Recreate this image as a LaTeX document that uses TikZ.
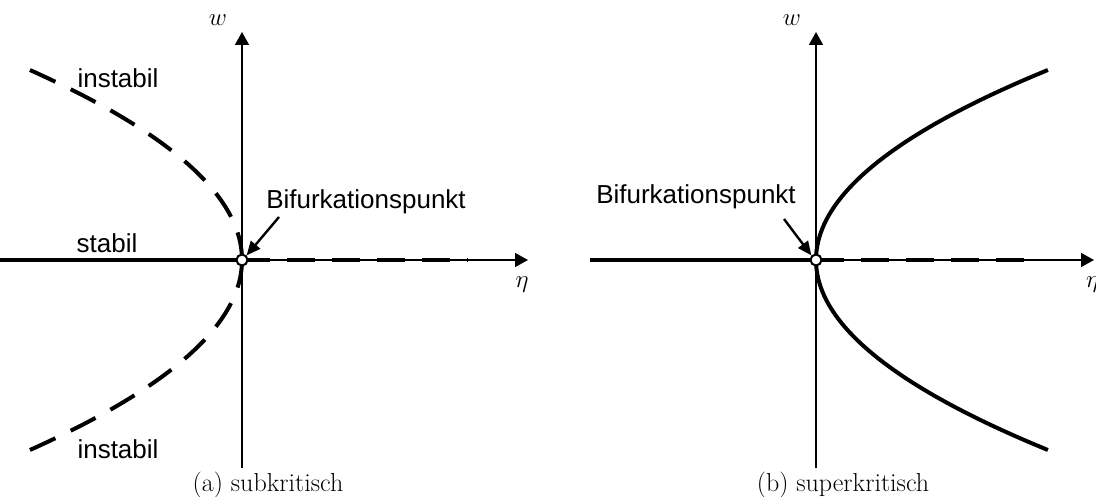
\documentclass[tikz,border=0pt]{standalone}
\usepackage{fontspec}
\newfontfamily\labelfont{Liberation Sans}
\usetikzlibrary{arrows.meta}
\begin{document}
\begin{tikzpicture}[x=1pt,y=-1pt,
  axis/.style={line width=1.6pt,-{Triangle[length=13pt,width=14pt]}},
  stable/.style={line width=4pt},
  unstable/.style={line width=4pt,dash pattern=on 28pt off 17pt},
  bifpoint/.style={circle,draw,line width=2pt,fill=white,inner sep=0pt,minimum size=11pt},
  lbl/.style={font=\labelfont\fontsize{26}{26}\selectfont,inner sep=0pt},
  axlbl/.style={font=\fontsize{28}{28}\selectfont,inner sep=0pt},
  captext/.style={font=\fontsize{26}{26}\selectfont,inner sep=0pt},
  pointer/.style={line width=2.4pt,-{Triangle[length=14pt,width=12pt]}}]
\useasboundingbox (0,0) rectangle (1096,497);

% ---------- (a) subcritical ----------
\coordinate (Ao) at (242,260);
\coordinate (Ab) at (242,468);
\coordinate (At) at (242,32);
\coordinate (Al) at (0,260);
\coordinate (Ar) at (528,260);
\coordinate (Ad) at (468,260);
\draw[axis] (Ab) -- (At);
\draw[axis] (Al) -- (Ar);
\draw[stable] (Al) -- (Ao);
\draw[unstable] (Ao) -- (Ad);
\draw[unstable] plot[domain=0:190,samples=60] ({242-0.00587*\x*\x},{260-\x});
\draw[unstable] plot[domain=0:190,samples=60] ({242-0.00587*\x*\x},{260+\x});
\node[bifpoint] (A) at (Ao) {};
\node[axlbl] (Aw) at (218,20) {$w$};
\node[axlbl] (Aeta) at (522,285) {$\eta$};
\node[lbl] (Ai1) at (118,78) {instabil};
\node[lbl] (Ai2) at (118,449) {instabil};
\node[lbl] (As) at (107,243) {stabil};
\node[lbl] (Abif) at (366,202) {Bifurkationspunkt};
\coordinate (Aarr) at (279,217);
\draw[pointer] (Aarr) -- (A.north east);
\node[captext] (Acap) at (268,485) {(a) subkritisch};

% ---------- (b) supercritical ----------
\coordinate (Bo) at (816,260);
\coordinate (Bb) at (816,468);
\coordinate (Bt) at (816,32);
\coordinate (Bl) at (590,260);
\coordinate (Br) at (1094,260);
\coordinate (Bd) at (1036,260);
\draw[axis] (Bb) -- (Bt);
\draw[axis] (Bl) -- (Br);
\draw[stable] (Bl) -- (Bo);
\draw[unstable] (Bo) -- (Bd);
\draw[stable] plot[domain=0:190,samples=60] ({816+0.00643*\x*\x},{260-\x});
\draw[stable] plot[domain=0:190,samples=60] ({816+0.00643*\x*\x},{260+\x});
\node[bifpoint] (B) at (Bo) {};
\node[axlbl] (Bw) at (792,20) {$w$};
\node[axlbl,anchor=west] (Beta) at (1086,285) {$\eta$};
\node[lbl] (Bbif) at (696,197) {Bifurkationspunkt};
\coordinate (Barr) at (784,219);
\draw[pointer] (Barr) -- (B.north west);
\node[captext] (Bcap) at (843,485) {(b) superkritisch};
\end{tikzpicture}
\end{document}
